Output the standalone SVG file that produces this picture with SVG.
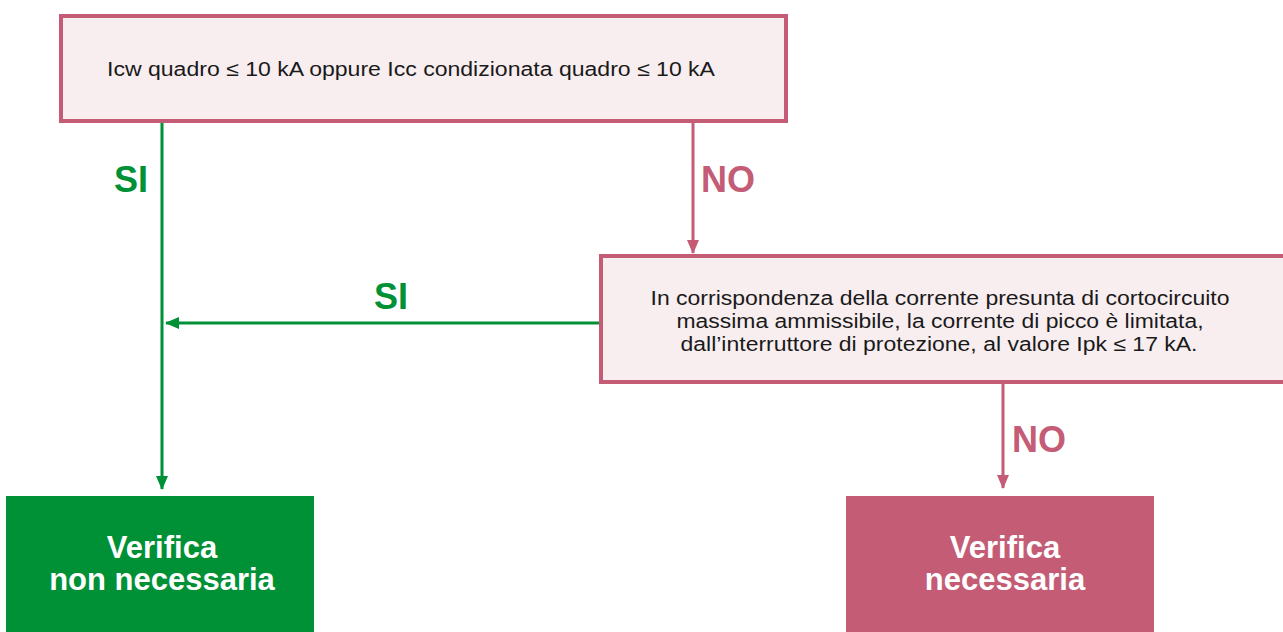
<svg xmlns="http://www.w3.org/2000/svg" width="1283" height="632" viewBox="0 0 1283 632">
<style>
.dec{fill:#f8eef0;stroke:#c45c76;stroke-width:4}
.t{font-family:"Liberation Sans",Arial,sans-serif;font-size:20px;fill:#1a1a1a}
.lbl{font-family:"Liberation Sans",Arial,sans-serif;font-size:36px;font-weight:bold;text-anchor:middle}
.res{font-family:"Liberation Sans",Arial,sans-serif;font-size:31px;font-weight:bold;fill:#ffffff;text-anchor:middle}
.g{stroke:#009036;stroke-width:3;fill:none}
.p{stroke:#c45c76;stroke-width:3;fill:none}
</style>
<defs>
<marker id="ag" markerWidth="14" markerHeight="12" refX="13" refY="6" orient="auto" markerUnits="userSpaceOnUse"><path d="M0,0 L14,6 L0,12 Z" fill="#009036"/></marker>
<marker id="ap" markerWidth="14" markerHeight="12" refX="13" refY="6" orient="auto" markerUnits="userSpaceOnUse"><path d="M0,0 L14,6 L0,12 Z" fill="#c45c76"/></marker>
</defs>
<rect width="1283" height="632" fill="#ffffff"/>
<g id="connectors">
<line class="g" x1="162" y1="122" x2="162" y2="489" marker-end="url(#ag)"/>
<line class="g" x1="600" y1="323" x2="166" y2="323" marker-end="url(#ag)"/>
<line class="p" x1="693" y1="122" x2="693" y2="253" marker-end="url(#ap)"/>
<line class="p" x1="1003" y1="383" x2="1003" y2="488" marker-end="url(#ap)"/>
<text class="lbl" x="131" y="192" fill="#009036">SI</text>
<text class="lbl" x="391" y="309" fill="#009036">SI</text>
<text class="lbl" x="728" y="192" fill="#c45c76">NO</text>
<text class="lbl" x="1039" y="452" fill="#c45c76">NO</text>
</g>
<g id="node-q1">
<rect class="dec" x="61" y="16" width="725" height="105"/>
<text class="t" x="107" y="76" textLength="608" lengthAdjust="spacingAndGlyphs">Icw quadro ≤ 10 kA oppure Icc condizionata quadro ≤ 10 kA</text>
</g>
<g id="node-q2">
<rect class="dec" x="601" y="256" width="690" height="126"/>
<text class="t" x="940" y="305" text-anchor="middle" textLength="579" lengthAdjust="spacingAndGlyphs">In corrispondenza della corrente presunta di cortocircuito</text>
<text class="t" x="940" y="328" text-anchor="middle" textLength="527" lengthAdjust="spacingAndGlyphs">massima ammissibile, la corrente di picco è limitata,</text>
<text class="t" x="939" y="351" text-anchor="middle" textLength="517" lengthAdjust="spacingAndGlyphs">dall’interruttore di protezione, al valore Ipk ≤ 17 kA.</text>
</g>
<g id="node-no">
<rect x="6" y="496" width="308" height="136" fill="#009036"/>
<text class="res" x="162" y="558">Verifica</text>
<text class="res" x="162" y="590">non necessaria</text>
</g>
<g id="node-yes">
<rect x="846" y="496" width="308" height="136" fill="#c45c76"/>
<text class="res" x="1005" y="558">Verifica</text>
<text class="res" x="1005" y="590">necessaria</text>
</g>
</svg>
